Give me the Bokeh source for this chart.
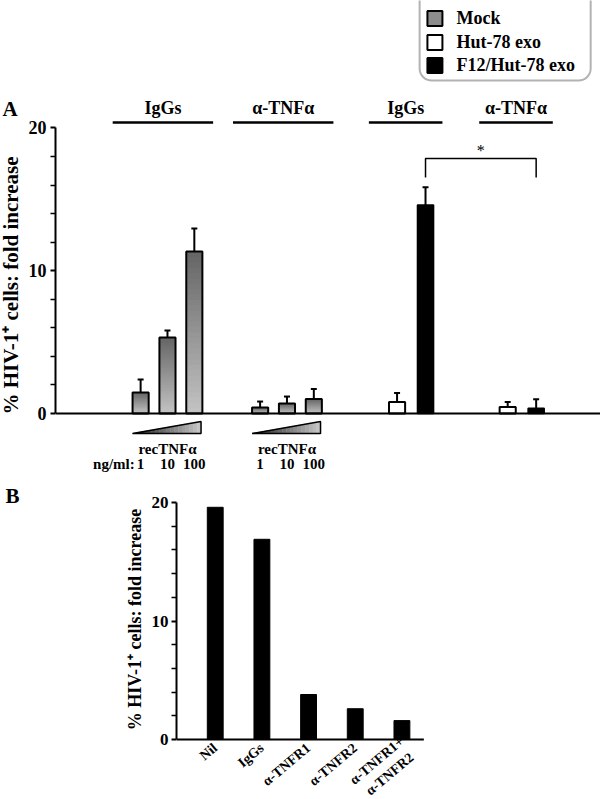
import numpy as np
from bokeh.plotting import figure
from bokeh.layouts import column, row
from bokeh.models import (Range1d, FixedTicker, BoxAnnotation, Whisker,
                          TeeHead, ColumnDataSource, Span)
from bokeh.embed import file_html
from bokeh.resources import INLINE
from bokeh.core.properties import value

FONT = "Liberation Serif"

# ---------------- data (panel A) ----------------
group_labels = ["IgGs", "α-TNFα", "IgGs", "α-TNFα"]
doses = ["1", "10", "100"]
mock_igg = [1.47, 5.32, 11.35]
mock_igg_err = [0.91, 0.49, 1.61]
mock_anti = [0.42, 0.70, 1.02]
mock_anti_err = [0.42, 0.49, 0.70]
hut_vals = [0.81, 0.46]
hut_err = [0.63, 0.35]
f12_vals = [14.6, 0.37]
f12_err = [1.25, 0.63]
legend_labels = ["Mock", "Hut-78 exo", "F12/Hut-78 exo"]
y_ticks = [0, 10, 20]
y_minor = [2, 4, 6, 8, 12, 14, 16, 18]
y_label = "% HIV-1\u207a cells: fold increase"

# ---------------- data (panel B) ----------------
b_labels = ["Nil", "IgGs", "α-TNFR1", "α-TNFR2", "α-TNFR1+\nα-TNFR2"]
b_vals = [19.6, 16.9, 3.8, 2.6, 1.6]

# ---------------- layout (slot units) ----------------
group_centers = [4.17, 8.62, 13.25, 17.37]
tri_off = [-1.0, 0.0, 1.0]
pair_off = [-0.53, 0.53]
bw = 0.6
header_x = [4.0, 8.48, 13.04, 17.15]
header_half = [1.87, 1.87, 1.37, 1.37]

A_YR = (-4.55, 28.93)
B_YR = (-5.06, 22.03)

MOCK_DARK = (0x66, 0x66, 0x66)
MOCK_LIGHT = (0xc2, 0xc2, 0xc2)


def mix(c0, c1, t):
    c = [int(round(a + (b - a) * t)) for a, b in zip(c0, c1)]
    return "#%02x%02x%02x" % tuple(c)


def bare(p):
    p.outline_line_color = None
    p.grid.visible = False
    try:
        p.frame_align = False
    except Exception:
        pass


def style_yaxis(p, size, standoff):
    ax = p.yaxis[0]
    ax.bounds = (0, 20)
    ax.ticker = FixedTicker(ticks=y_ticks, minor_ticks=y_minor)
    ax.axis_line_width = 2
    ax.axis_line_color = "black"
    ax.major_tick_line_width = 2
    ax.minor_tick_line_width = 1.5
    ax.major_tick_out = 5
    ax.major_tick_in = 0
    ax.minor_tick_out = 5
    ax.minor_tick_in = 0
    ax.major_label_standoff = standoff
    ax.major_label_text_font = FONT
    ax.major_label_text_font_style = "bold"
    ax.major_label_text_font_size = size
    ax.major_label_text_color = "black"


def side_panel(width, height, yr):
    s = figure(width=width, height=height, output_backend="svg", toolbar_location=None,
               x_range=Range1d(0, width), y_range=Range1d(*yr),
               x_axis_location=None, y_axis_location=None, min_border=0)
    bare(s)
    return s


# ================= Panel A =================
pA = figure(width=575, height=478, output_backend="svg", toolbar_location=None,
            x_range=Range1d(0, 548 / 27), y_range=Range1d(*A_YR),
            x_axis_location=None, y_axis_location="left",
            min_border_left=27, min_border_right=0, min_border_top=0,
            min_border_bottom=0)
bare(pA)
style_yaxis(pA, "18px", 4)

# mock bars (gradient)
mock_x = [group_centers[0] + o for o in tri_off] + [group_centers[1] + o for o in tri_off]
mock_v = mock_igg + mock_anti
mock_e = mock_igg_err + mock_anti_err
N = 30
gx, gb, gt, gc = [], [], [], []
for x, v in zip(mock_x, mock_v):
    for k in range(N):
        gx.append(x)
        gb.append(v * k / N)
        gt.append(v)
        gc.append(mix(MOCK_LIGHT, MOCK_DARK, k / (N - 1)))
pA.vbar(x=gx, bottom=gb, top=gt, width=bw, fill_color=gc, line_color=None)
pA.vbar(x=mock_x, top=mock_v, width=bw, fill_color=None, line_color="black", line_width=2)

# exosome bars
hut_x = [group_centers[2] + pair_off[0], group_centers[3] + pair_off[0]]
f12_x = [group_centers[2] + pair_off[1], group_centers[3] + pair_off[1]]
pA.vbar(x=hut_x, top=hut_vals, width=bw, fill_color="white", line_color="black", line_width=2)
pA.vbar(x=f12_x, top=f12_vals, width=bw, fill_color="black", line_color="black", line_width=1.5)

# error bars
all_x = mock_x + hut_x + f12_x
all_v = mock_v + hut_vals + f12_vals
all_e = mock_e + hut_err + f12_err
esrc = ColumnDataSource(dict(x=all_x, lower=all_v,
                             upper=[v + e for v, e in zip(all_v, all_e)]))
wh = Whisker(source=esrc, base="x", lower="lower", upper="upper", dimension="height",
             line_color="black", line_width=2, lower_head=None,
             upper_head=TeeHead(size=6, line_width=2, line_color="black"))
wh.level = "overlay"
pA.add_layout(wh)

# baseline
pA.add_layout(Span(location=0, dimension="width", line_color="black", line_width=2))

# group headers
pA.segment(x0=[c - h for c, h in zip(header_x, header_half)], y0=[20.39] * 4,
           x1=[c + h for c, h in zip(header_x, header_half)], y1=[20.39] * 4,
           line_color="black", line_width=2.5)
pA.text(x=header_x, y=[21.37] * 4, text=group_labels, text_font=value(FONT),
        text_font_style="bold", text_font_size="18px", text_align="center",
        text_baseline="middle", text_color="black")

# significance bracket
bx0, bx1 = f12_x
pA.line([bx0, bx0, bx1, bx1], [16.53, 17.86, 17.86, 16.53], line_color="black", line_width=1.5)
pA.text(x=[(bx0 + bx1) / 2], y=[18.45], text=["*"], text_font=value(FONT),
        text_font_size="16px", text_align="center", text_baseline="middle", text_color="black")

# dose wedges
W_DARK = (0x22, 0x22, 0x22)
W_LIGHT = (0xc4, 0xc4, 0xc4)
yb, yt = -1.40, -0.56
for gcx in group_centers[:2]:
    x0, x1 = gcx - 1.3, gcx + 1.25
    M = 18
    pxs, pys, pcs = [], [], []
    for k in range(M):
        a = x0 + (x1 - x0) * k / M
        b = x0 + (x1 - x0) * (k + 1) / M
        ha = yb + (yt - yb) * k / M
        hb = yb + (yt - yb) * (k + 1) / M
        pxs.append([a, b, b, a])
        pys.append([yb, yb, hb, ha])
        pcs.append(mix(W_DARK, W_LIGHT, k / (M - 1)))
    pA.patches(pxs, pys, fill_color=pcs, line_color=pcs, line_width=0.5)
    pA.patch([x0, x1, x1, x0], [yb, yb, yt, yb], fill_color=None,
             line_color="black", line_width=1.5)

pA.text(x=group_centers[:2], y=[-2.45] * 2, text=["recTNFα"] * 2, text_font=value(FONT),
        text_font_style="bold", text_font_size="15px", text_align="center",
        text_baseline="middle", text_color="black")
pA.text(x=mock_x, y=[-3.5] * 6, text=doses * 2, text_font=value(FONT),
        text_font_style="bold", text_font_size="15px", text_align="center",
        text_baseline="middle", text_color="black")
pA.text(x=[mock_x[0] - 0.22], y=[-3.5], text=["ng/ml:"], text_font=value(FONT),
        text_font_style="bold", text_font_size="15px", text_align="right",
        text_baseline="middle", text_color="black")

# legend
pA.add_layout(BoxAnnotation(left=13.56, right=19.93, bottom=23.33, top=30.5,
                            border_radius=12, fill_alpha=0, fill_color=None,
                            line_color="black", line_width=2))
leg_y = [27.67, 25.99, 24.38]
pA.rect(x=[14.13] * 3, y=leg_y, width=15, height=15, width_units="screen",
        height_units="screen", fill_color=["#8c8c8c", "white", "black"],
        line_color="black", line_width=2)
pA.text(x=[14.93] * 3, y=leg_y, text=legend_labels, text_font=value(FONT),
        text_font_style="bold", text_font_size="18px", text_align="left",
        text_baseline="middle", text_color="black")

# left strip for panel A: letter + y label (x in strip pixels)
sA = side_panel(25, 478, A_YR)
sA.text(x=[2], y=[21.3], text=["A"], text_font=value(FONT), text_font_style="bold",
        text_font_size="21px", text_align="left", text_baseline="middle", text_color="black")
sA.text(x=[10], y=[8.97], text=[y_label], angle=np.pi / 2, text_font=value(FONT),
        text_font_style="bold", text_font_size="21px", text_align="center",
        text_baseline="middle", text_color="black")

# ================= Panel B =================
pB = figure(width=452, height=321, output_backend="svg", toolbar_location=None,
            x_range=Range1d(-0.83, -0.83 + 427 / 47), y_range=Range1d(*B_YR),
            x_axis_location=None, y_axis_location="left",
            min_border_left=25, min_border_right=0, min_border_top=0,
            min_border_bottom=0)
bare(pB)
style_yaxis(pB, "17px", 3)

b_x = list(range(len(b_vals)))
pB.vbar(x=b_x, top=b_vals, width=0.34, fill_color="black", line_color="black")
pB.segment(x0=[-0.83], y0=[0], x1=[b_x[-1] + 0.47], y1=[0], line_color="black", line_width=2)

ang = np.deg2rad(40)
single = [(x, t) for x, t in zip(b_x, b_labels) if "\n" not in t]
pB.text(x=[s[0] for s in single], y=[-0.55] * len(single), text=[s[1] for s in single],
        angle=ang, text_font=value(FONT), text_font_style="bold", text_font_size="14px",
        text_align="right", text_baseline="middle", text_color="black")
for x, t in zip(b_x, b_labels):
    if "\n" in t:
        for i, ln in enumerate(t.split("\n")):
            pB.text(x=[x + 0.21 * i], y=[0.0 - 1.35 * i], text=[ln], angle=ang,
                    text_font=value(FONT), text_font_style="bold", text_font_size="14px",
                    text_align="right", text_baseline="middle", text_color="black")

sB = side_panel(148, 321, B_YR)
sB.text(x=[5], y=[20.59], text=["B"], text_font=value(FONT), text_font_style="bold",
        text_font_size="21px", text_align="left", text_baseline="middle", text_color="black")
sB.text(x=[134.5], y=[10.13], text=[y_label], angle=np.pi / 2, text_font=value(FONT),
        text_font_style="bold", text_font_size="18px", text_align="center",
        text_baseline="middle", text_color="black")

layout = column(row(sA, pA, spacing=0), row(sB, pB, spacing=0), spacing=0)
open("out.html", "w").write(file_html(layout, INLINE))
